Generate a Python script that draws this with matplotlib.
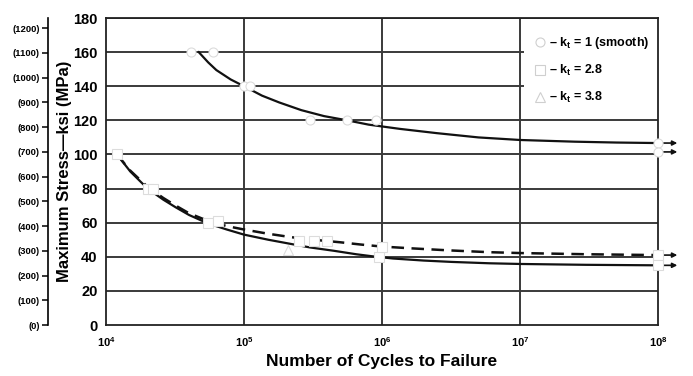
import matplotlib.pyplot as plt
from matplotlib.lines import Line2D

plt.rcParams['font.family'] = ['Liberation Sans', 'DejaVu Sans']
plt.rcParams['font.weight'] = 'bold'
plt.rcParams['mathtext.fontset'] = 'custom'
plt.rcParams['mathtext.bf'] = 'Liberation Sans:bold'
plt.rcParams['mathtext.rm'] = 'Liberation Sans:bold'
plt.rcParams['mathtext.it'] = 'Liberation Sans:bold'
plt.rcParams['mathtext.default'] = 'bf'

KSI_TO_MPA = 6.895

# fitted curves (cycles, ksi)
smooth_n = [4.7e4, 5.5e4, 6.3e4, 8.0e4, 1.0e5, 1.35e5, 1.8e5, 2.6e5, 3.8e5, 5.6e5, 8.0e5,
            1.35e6, 2.5e6, 5.0e6, 1.0e7, 2.5e7, 5.0e7, 1.0e8]
smooth_s = [160, 154, 149.5, 144, 140, 134.5, 130.5, 126, 122.5, 120, 117.5,
            115, 112.5, 110, 108.5, 107.5, 107, 106.7]

notch_solid_n = [1.2e4, 1.5e4, 2.0e4, 2.6e4, 3.2e4, 4.0e4, 5.5e4, 7.5e4, 1.0e5, 1.5e5, 2.2e5,
                 3.0e5, 4.5e5, 6.5e5, 8.5e5, 1.2e6, 2.0e6, 3.2e6, 6.0e6, 1.0e7, 3.0e7, 1.0e8]
notch_solid_s = [100, 90, 80, 73.5, 69, 64.5, 59.5, 56, 53, 50, 47.5,
                 45.5, 43.5, 41.5, 40.3, 39, 37.8, 37, 36.2, 35.8, 35.3, 35]

notch_dash_n = [1.2e4, 1.5e4, 2.0e4, 2.6e4, 3.2e4, 4.0e4, 5.5e4, 7.5e4, 1.0e5, 1.5e5, 2.2e5,
                3.2e5, 5.0e5, 7.0e5, 1.0e6, 1.6e6, 3.0e6, 6.0e6, 1.0e7, 3.0e7, 1.0e8]
notch_dash_s = [100, 90.5, 81, 74.5, 70, 65.5, 61, 58, 56, 53.5, 51.5,
                50, 48.5, 47.2, 46, 45, 43.8, 42.7, 42.2, 41.5, 41]

# test points
kt1_n = [4.1e4, 6.0e4, 1.0e5, 1.1e5, 3.0e5, 5.6e5, 9.1e5, 1.0e8, 1.0e8]
kt1_s = [160, 160, 140, 140, 120, 120, 120, 106.7, 101.5]

kt28_n = [1.2e4, 2.0e4, 2.2e4, 5.5e4, 6.5e4, 2.5e5, 3.2e5, 4.0e5, 9.5e5, 1.0e6, 1.0e8, 1.0e8]
kt28_s = [100, 80, 80, 60, 61, 49, 49, 49, 40, 46, 41, 35]

kt38_n = [2.1e5]
kt38_s = [44]

# runout arrows at the end of the test (ksi)
runout_s = [106.7, 101.5, 41, 35]
runout_start = 1.0e8
runout_end = 1.38e8

x_ticks = [1e4, 1e5, 1e6, 1e7, 1e8]
x_labels = [r'$10^{4}$', r'$10^{5}$', r'$10^{6}$', r'$10^{7}$', r'$10^{8}$']
ksi_ticks = list(range(0, 181, 20))
mpa_ticks = list(range(0, 1201, 100))

fig = plt.figure(figsize=(6.93, 3.76), dpi=100)
ax = fig.add_axes([0.153, 0.1356, 0.7965, 0.8164])

ax.set_xscale('log')
ax.set_xlim(1e4, 1e8)
ax.set_ylim(0, 180)

grid_kw = dict(color='#3a3a3a', lw=1.4, zorder=1)
for s in ksi_ticks[1:]:
    ax.axhline(s, **grid_kw)
for n in x_ticks[1:-1]:
    ax.axvline(n, **grid_kw)

ax.plot(smooth_n, smooth_s, color='#111111', lw=1.6, zorder=3)
ax.plot(notch_solid_n, notch_solid_s, color='#111111', lw=1.6, zorder=3)
ax.plot(notch_dash_n, notch_dash_s, color='#111111', lw=1.8, ls=(0, (5, 3)), zorder=3)

mk = dict(ls='none', mfc='white', mec='#dcdcdc', mew=0.8, ms=6.5, zorder=8, clip_on=False)
ax.plot(kt1_n, kt1_s, marker='o', **mk)
ax.plot(kt28_n, kt28_s, marker='s', **mk)
ax.plot(kt38_n, kt38_s, marker='^', **mk)

for s in runout_s:
    ax.annotate('', xy=(runout_end, s), xytext=(runout_start, s),
                arrowprops=dict(arrowstyle='-|>', color='#111111', lw=1.2,
                                mutation_scale=7, shrinkA=4, shrinkB=0),
                annotation_clip=False, zorder=5)

ax.set_xticks(x_ticks)
ax.set_xticklabels(x_labels, fontsize=8)
ax.minorticks_off()
ax.set_yticks(ksi_ticks)
ax.tick_params(axis='y', length=0, pad=6, labelsize=10.5)
ax.tick_params(axis='x', length=0, pad=7)

for sp in ax.spines.values():
    sp.set_linewidth(1.3)
    sp.set_color('#222222')
    sp.set_zorder(7)

ax.set_xlabel('Number of Cycles to Failure', fontsize=12.5, fontweight='bold', labelpad=4)
ax.set_ylabel('Maximum Stress\u2014ksi (MPa)', fontsize=12, fontweight='bold')
ax.yaxis.set_label_coords(-0.062, 0.5)

# MPa scale
ax2 = ax.twinx()
ax2.set_ylim(0, 180 * KSI_TO_MPA)
ax2.yaxis.set_ticks_position('left')
ax2.yaxis.set_label_position('left')
ax2.spines['left'].set_position(('axes', -0.105))
ax2.spines['left'].set_linewidth(1.2)
for k in ['right', 'top', 'bottom']:
    ax2.spines[k].set_visible(False)
ax2.set_yticks(mpa_ticks)
ax2.set_yticklabels(['(%d)' % v for v in mpa_ticks], fontsize=6.8)
ax2.tick_params(axis='y', direction='out', length=4, width=1.1, pad=2)

handles = [Line2D([], [], marker=m, ls='none', mfc='white', mec='#cfcfcf', mew=0.8, ms=6.5)
           for m in ['o', 's', '^']]
labels = ['\u2013 k$_t$ = 1 (smooth)', '\u2013 k$_t$ = 2.8', '\u2013 k$_t$ = 3.8']
leg = ax.legend(handles, labels, loc='upper left', bbox_to_anchor=(0.752, 0.985),
                frameon=True, fancybox=False, fontsize=9, handletextpad=0.2,
                handlelength=1.0, labelspacing=0.95, borderpad=0.8, borderaxespad=0.2)
leg.get_frame().set_edgecolor('none')
leg.get_frame().set_facecolor('white')
leg.get_frame().set_alpha(1)
leg.set_zorder(6)

fig.savefig('out.png', dpi=100)
